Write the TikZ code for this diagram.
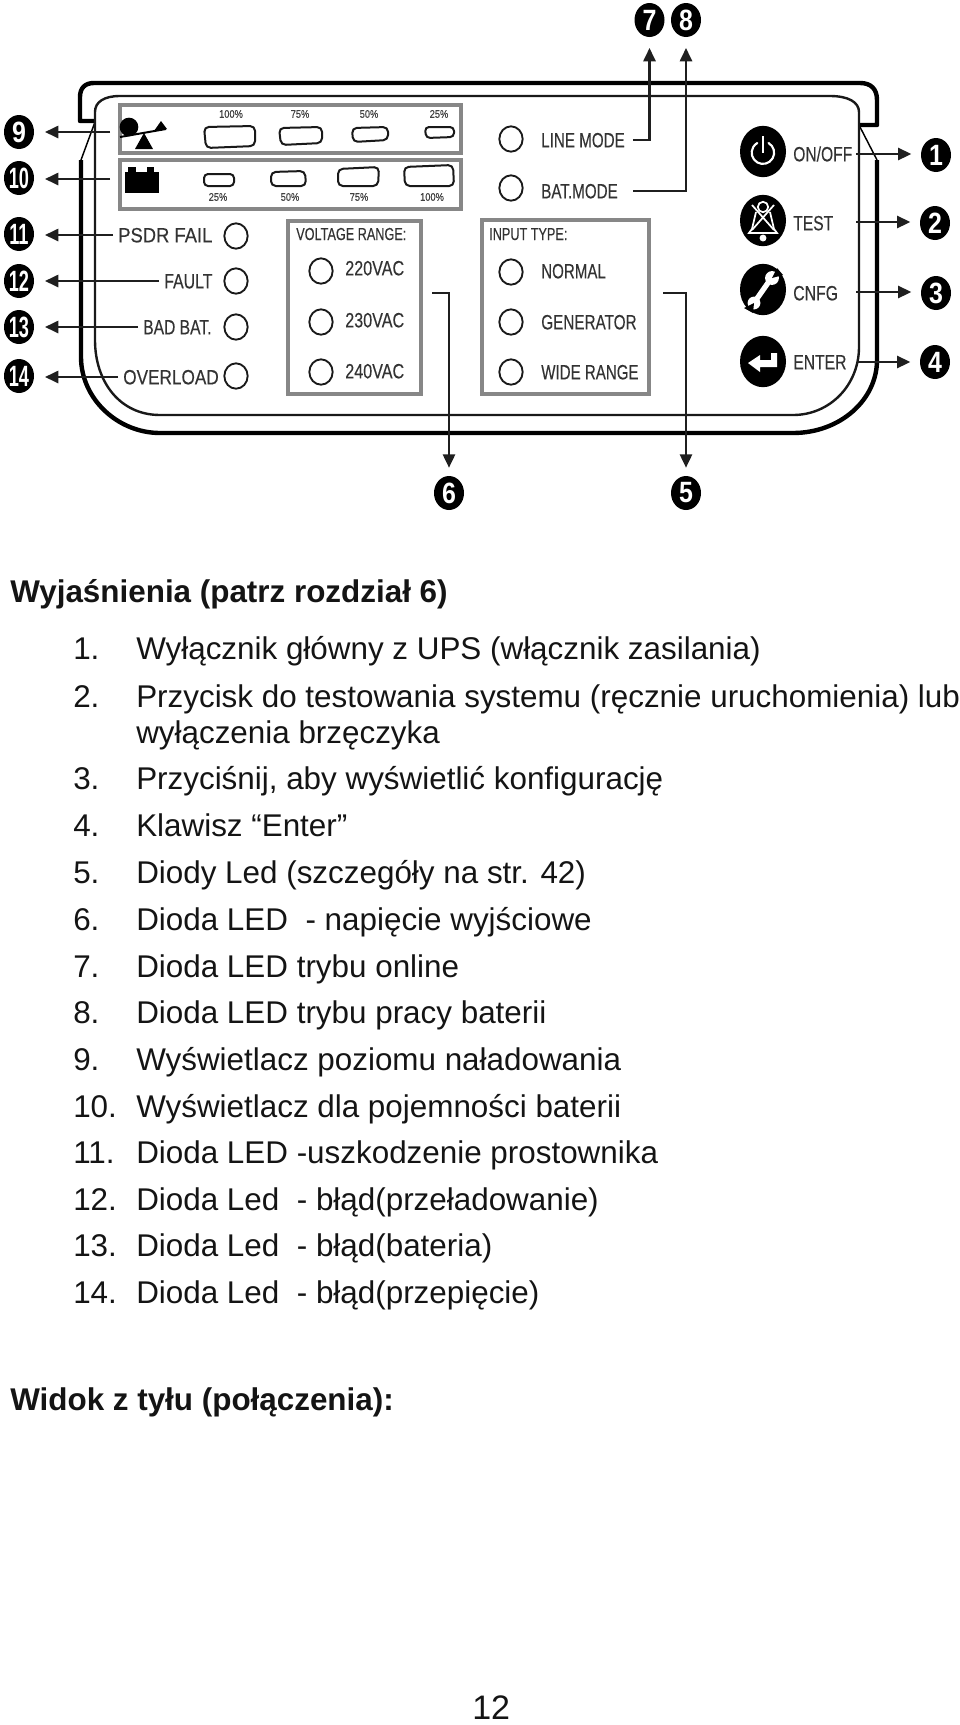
\documentclass[tikz,border=0pt]{standalone}
\usepackage{fontspec}
\usetikzlibrary{shapes.geometric,arrows.meta}
\setmainfont{Liberation Sans}
\newfontfamily\panelf[FakeStretch=0.84,FakeBold=0.25]{Liberation Sans}
\newfontfamily\numf[FakeStretch=0.85]{Liberation Sans}
\newfontfamily\numg[FakeStretch=0.62]{Liberation Sans}
\newcommand{\nw}[2]{\scalebox{#1}[1]{#2}}
\tikzset{
 outerline/.style={line width=3.3pt,black,line cap=butt,line join=round},
 innerline/.style={line width=1.8pt,black!90},
 slant/.style={line width=1.1pt,black},
 graybox/.style={draw=black!47,line width=2.3pt},
 pill/.style={draw=black!90,line width=1.5pt,rounded corners=3.6pt},
 led/.style={ellipse,draw=black!90,line width=1.4pt,minimum width=17.5pt,minimum height=19pt,inner sep=0pt},
 plabel/.style={font=\panelf\fontsize{15.5}{16}\selectfont,text=black!80,anchor=west,inner xsep=3.75pt,inner ysep=0pt,text height=11pt,text depth=0pt},
 slabel/.style={plabel,font=\panelf\fontsize{13}{14}\selectfont,text height=9pt},
 pct/.style={font=\panelf\fontsize{8.3}{9}\selectfont,text=black!75,inner sep=0pt},
 numdisc/.style={ellipse,fill=black,text=white,minimum width=22.5pt,minimum height=25.5pt,inner sep=0pt,font=\numf\bfseries\fontsize{22}{22}\selectfont},
 numdiscb/.style={numdisc,font=\numg\bfseries\fontsize{22}{22}\selectfont},
 icondisc/.style={ellipse,fill=black,minimum width=34.5pt,minimum height=38.5pt,inner sep=0pt},
 conn/.style={line width=1.9pt,black!88,-{Triangle[length=10pt,width=9pt]}},
 body/.style={anchor=base west,inner sep=0pt,font=\fontsize{23.55}{28}\selectfont,text=black!92},
 head/.style={body,font=\bfseries\fontsize{23.55}{28}\selectfont},
 pagenum/.style={body,font=\fontsize{25.5}{30}\selectfont},
 icw/.style={draw=white,line width=1.6pt},
}
\begin{document}
\begin{tikzpicture}[x=0.75pt,y=-0.75pt]
\useasboundingbox (0,0) rectangle (960,1725);
\fill[white] (0,0) rectangle (960,1725);

% case outline
\draw[outerline] (95,121) -- (80,121) -- (80,97) .. controls (80,88) and (85,83) .. (94,83) -- (860,83) .. controls (871,83) and (877,89) .. (877,100) -- (877,125) -- (860,125);
\draw[outerline] (81,160) -- (81,357) .. controls (81,399) and (118,433) .. (160,433) -- (793,433) .. controls (840,433) and (877,400) .. (877,360) -- (877,160);
\draw[slant] (95,122) -- (81,160);
\draw[slant] (860,127) -- (877,160);
\draw[innerline] (95,340) .. controls (95,382) and (120,415) .. (160,415) -- (793,415) .. controls (830,415) and (859,385) .. (859,347) -- (859,112) .. controls (859,102) and (848,96) .. (830,96) -- (120,96) .. controls (104,96) and (95,102) .. (95,112) -- cycle;

% gray boxes
\draw[graybox] (120,105) rectangle (461,153);
\draw[graybox] (120,160) rectangle (461,209);
\draw[graybox] (288,221) rectangle (421,394);
\draw[graybox] (482,220) rectangle (649,394);

% load bar
\draw[pill] (204,127) -- (255,126) -- (255,146) -- (206,148) -- cycle;
\draw[pill] (279,128) -- (322,127) -- (322,143) -- (281,145) -- cycle;
\draw[pill] (352,128) -- (388,127) -- (388,140) -- (353,142) -- cycle;
\draw[pill,rounded corners=3pt] (425,127) -- (454,127) -- (454,137) -- (426,138) -- cycle;
\node[pct] (p100a) at (231,114) {100\%};
\node[pct] (p75a) at (300,114) {75\%};
\node[pct] (p50a) at (369,114) {50\%};
\node[pct] (p25a) at (439,114) {25\%};

% battery bar
\draw[pill,rounded corners=3pt] (204,174) -- (234,174) -- (234,186) -- (204,186) -- cycle;
\draw[pill] (271,172) -- (305,171) -- (306,186) -- (271,186) -- cycle;
\draw[pill] (338,169) -- (379,167) -- (378,186) -- (338,186) -- cycle;
\draw[pill] (404,167) -- (453,165) -- (454,186) -- (405,186) -- cycle;
\node[pct] (p25b) at (218,197) {25\%};
\node[pct] (p50b) at (290,197) {50\%};
\node[pct] (p75b) at (359,197) {75\%};
\node[pct] (p100b) at (432,197) {100\%};

% seesaw and battery icons
\fill[black] (129,127) circle[radius=7pt];
\draw[black,line width=1.5pt] (120,137) -- (166,129);
\fill[black] (135,149) -- (153,149) -- (144,133) -- cycle;
\fill[black] (161,121) -- (154,131) -- (167,129) -- cycle;
\fill[black] (125,172) rectangle (159,193);
\fill[black] (128,167) rectangle (136,172);
\fill[black] (147,167) rectangle (154,172);

% left LEDs and labels
\node[led] (ledA) at (236,236) {};
\node[led] (ledB) at (236,281) {};
\node[led] (ledC) at (236,327) {};
\node[led] (ledD) at (236,376) {};
\node[plabel] (lPsdr) at (113,235) {\nw{1.06}{PSDR FAIL}};
\node[plabel] (lFault) at (159,281) {\nw{.915}{FAULT}};
\node[plabel] (lBad) at (138,327) {\nw{.9}{BAD BAT.}};
\node[plabel] (lOver) at (118,377) {\nw{.99}{OVERLOAD}};

% voltage box
\node[slabel] (lVolt) at (291,234) {\nw{.87}{VOLTAGE RANGE:}};
\node[led] (ledV1) at (321,271) {};
\node[led] (ledV2) at (321,322) {};
\node[led] (ledV3) at (321,372) {};
\node[plabel] (lV1) at (340,268) {\nw{.93}{220VAC}};
\node[plabel] (lV2) at (340,320) {\nw{.93}{230VAC}};
\node[plabel] (lV3) at (340,371) {\nw{.93}{240VAC}};

% input box and mode LEDs
\node[slabel] (lInput) at (484,234) {\nw{.87}{INPUT TYPE:}};
\node[led] (ledI1) at (511,272) {};
\node[led] (ledI2) at (511,322) {};
\node[led] (ledI3) at (511,372) {};
\node[plabel] (lI1) at (536,271) {\nw{.87}{NORMAL}};
\node[plabel] (lI2) at (536,322) {\nw{.88}{GENERATOR}};
\node[plabel] (lI3) at (536,372) {\nw{.87}{WIDE RANGE}};
\node[led] (ledL) at (511,139) {};
\node[led] (ledM) at (511,188) {};
\node[plabel] (lLine) at (536,140) {\nw{.875}{LINE MODE}};
\node[plabel] (lBat) at (536,191) {\nw{.875}{BAT.MODE}};

% buttons
\node[icondisc] (bPow) at (763,151.5) {};
\node[icondisc] (bTest) at (763,220.5) {};
\node[icondisc] (bCnfg) at (763,289.5) {};
\node[icondisc] (bEnt) at (763,361.5) {};
\node[plabel] (lOn) at (788,154) {\nw{.9}{ON/OFF}};
\node[plabel] (lTest) at (788,223) {\nw{.9}{TEST}};
\node[plabel] (lCnfg) at (788,293) {\nw{.91}{CNFG}};
\node[plabel] (lEnt) at (788,362) {\nw{.905}{ENTER}};
% power glyph
\draw[icw,line cap=round] (768.5,143) arc[start angle=60,delta angle=-300,radius=8.4pt];
\draw[icw] (763,136) -- (763,153);
% bell glyph
\draw[icw,line width=1.3pt] (763,207) circle[radius=3.9pt];
\draw[icw,line width=1.3pt] (756,212) -- (752,229) -- (749,233) -- (777,233) -- (774,229) -- (770,212);
\draw[icw,line width=1.3pt] (752,205) -- (774,230);
\draw[icw,line width=1.3pt] (774,205) -- (752,230);
\fill[white] (763,238) circle[radius=2.6pt];
% wrench glyph
\draw[white,line width=4pt,line cap=round] (770,280) -- (756,300);
\fill[white] (772,278) circle[radius=5.2pt];
\fill[white] (754,303) circle[radius=4.8pt];
\fill[black] (772,278) -- (777,268) -- (783,275) -- cycle;
\fill[black] (754,303) -- (753,313) -- (744,308) -- cycle;
% enter glyph
\fill[white] (748,363) -- (760,355) -- (760,360) -- (771,360) -- (771,353) -- (777,353) -- (777,367) -- (760,367) -- (760,372) -- cycle;

% number discs
\node[numdisc] (n1) at (936,155) {1};
\node[numdisc] (n2) at (935,223) {2};
\node[numdisc] (n3) at (936,293) {3};
\node[numdisc] (n4) at (935,362) {4};
\node[numdisc] (n5) at (686,493) {5};
\node[numdisc] (n6) at (449,493) {6};
\node[numdisc] (n7) at (649.5,20) {7};
\node[numdisc] (n8) at (686,20) {8};
\node[numdisc] (n9) at (19,132) {9};
\node[numdiscb] (n10) at (19,178) {10};
\node[numdiscb] (n11) at (19,234) {11};
\node[numdiscb] (n12) at (19,281) {12};
\node[numdiscb] (n13) at (19,327) {13};
\node[numdiscb] (n14) at (19,376) {14};

% connector free ends
\coordinate (s1) at (856,154);
\coordinate (s2) at (856,222);
\coordinate (s3) at (856,292);
\coordinate (s4) at (857,362);
\coordinate (s5) at (663,293);
\coordinate (s6) at (432,293);
\coordinate (s9) at (110,132);
\coordinate (s10) at (110,179);

% connectors
\draw[conn,shorten >=7pt] (s1) -- (s1 -| n1.west);
\draw[conn,shorten >=7pt] (s2) -- (s2 -| n2.west);
\draw[conn,shorten >=7pt] (s3) -- (s3 -| n3.west);
\draw[conn,shorten >=7pt] (s4) -- (s4 -| n4.west);
\draw[conn,shorten >=6pt] (s5) -| (n5.north);
\draw[conn,shorten >=6pt] (s6) -| (n6.north);
\draw[conn,shorten >=8pt,shorten <=2pt] (lLine.east) -| (n7.south);
\draw[conn,shorten >=8pt,shorten <=7.5pt] (lBat.east) -| (n8.south);
\draw[conn,shorten >=8pt] (s9) -- (s9 -| n9.east);
\draw[conn,shorten >=8pt] (s10) -- (s10 -| n10.east);
\draw[conn,shorten >=8pt] (lPsdr.west) -- (lPsdr.west -| n11.east);
\draw[conn,shorten >=8pt] (lFault.west) -- (lFault.west -| n12.east);
\draw[conn,shorten >=8pt] (lBad.west) -- (lBad.west -| n13.east);
\draw[conn,shorten >=8pt] (lOver.west) -- (lOver.west -| n14.east);

% text
\node[head] (t0) at (10,602) {Wyjaśnienia (patrz rozdział 6)};
\node[body] (a1) at (73,659) {1.};
\node[body] (b1) at (136,659) {Wyłącznik główny z UPS (włącznik zasilania)};
\node[body] (a2) at (73,707) {2.};
\node[body] (b2) at (136,707) {Przycisk do testowania systemu (ręcznie uruchomienia) lub};
\node[body] (b2b) at (136,743) {wyłączenia brzęczyka};
\node[body] (a3) at (73,789) {3.};
\node[body] (b3) at (136,789) {Przyciśnij, aby wyświetlić konfigurację};
\node[body] (a4) at (73,836.5) {4.};
\node[body] (b4) at (136,836.5) {Klawisz “Enter”};
\node[body] (a5) at (73,883.5) {5.};
\node[body] (b5) at (136,883.5) {Diody Led (szczegóły na str. 42)};
\node[body] (a6) at (73,930) {6.};
\node[body] (b6) at (136,930) {Dioda LED\ \ - napięcie wyjściowe};
\node[body] (a7) at (73,977) {7.};
\node[body] (b7) at (136,977) {Dioda LED trybu online};
\node[body] (a8) at (73,1023.5) {8.};
\node[body] (b8) at (136,1023.5) {Dioda LED trybu pracy baterii};
\node[body] (a9) at (73,1070.5) {9.};
\node[body] (b9) at (136,1070.5) {Wyświetlacz poziomu naładowania};
\node[body] (a10) at (73,1117) {10.};
\node[body] (b10) at (136,1117) {Wyświetlacz dla pojemności baterii};
\node[body] (a11) at (73,1163.5) {11.};
\node[body] (b11) at (136,1163.5) {Dioda LED -uszkodzenie prostownika};
\node[body] (a12) at (73,1210) {12.};
\node[body] (b12) at (136,1210) {Dioda Led\ \ - błąd(przeładowanie)};
\node[body] (a13) at (73,1256.5) {13.};
\node[body] (b13) at (136,1256.5) {Dioda Led\ \ - błąd(bateria)};
\node[body] (a14) at (73,1303) {14.};
\node[body] (b14) at (136,1303) {Dioda Led\ \ - błąd(przepięcie)};
\node[head] (t1) at (10,1410) {Widok z tyłu (połączenia):};
\node[pagenum] (pg) at (472,1719.5) {12};
\end{tikzpicture}
\end{document}
